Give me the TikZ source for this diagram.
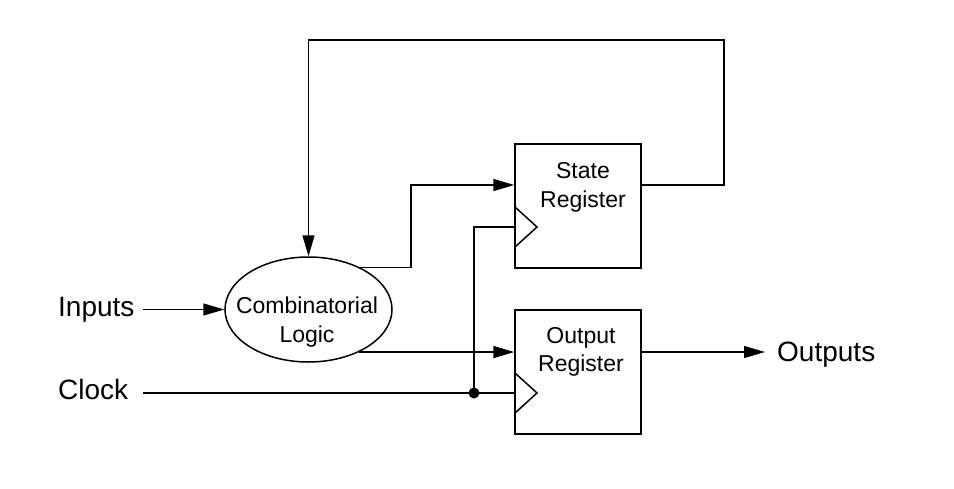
\documentclass[tikz,border=0pt]{standalone}
\usepackage{fontspec}
\setmainfont{Liberation Sans}
\usetikzlibrary{arrows.meta,shapes.geometric,calc}
\begin{document}
\begin{tikzpicture}[x=1pt,y=-1pt,
  wire/.style={line width=1.5pt},
  arr/.style={wire,-{Triangle[length=21pt,width=12pt]}},
  reg/.style={draw,line width=1.5pt,minimum width=126pt,minimum height=124pt,inner sep=0},
  boxtext/.style={font=\fontsize{23}{29}\selectfont,inner sep=0,anchor=base},
  lbl/.style={font=\fontsize{28}{34}\selectfont,inner sep=0,anchor=base west},
  jdot/.style={circle,fill,minimum size=11pt,inner sep=0}]
\useasboundingbox (0,0) rectangle (954,488);
% blocks
\node[reg] (sr) at (578,206) {};
\node[reg] (or) at (578,372) {};
\node[draw,ellipse,line width=1.5pt,minimum width=167pt,minimum height=105pt,inner sep=0] (cl) at (308.5,309.5) {};
% block texts
\node[boxtext] (srt1) at (583,178) {State};
\node[boxtext] (srt2) at (583,207) {Register};
\node[boxtext] (ort1) at (581,343) {Output};
\node[boxtext] (ort2) at (581,371) {Register};
\node[boxtext] (clt1) at (307,313) {Combinatorial};
\node[boxtext] (clt2) at (307,342) {Logic};
% labels
\node[lbl] (inp) at (58,316) {Inputs};
\node[lbl] (clk) at (58,399) {Clock};
\node[lbl] (outp) at (777,361) {Outputs};
% coordinates
\coordinate (inS) at (143,309.5);
\coordinate (clkS) at (143,393);
\coordinate (fb) at (724,40);
\coordinate (bend) at (411,185);
\coordinate (outE) at (765,352);
\node[jdot] (j) at (474,393) {};
% clock triangles
\coordinate (srT1) at (515,207);
\coordinate (srT2) at (537,227);
\coordinate (srT3) at (515,247);
\coordinate (orT1) at (515,373);
\coordinate (orT2) at (537,393);
\coordinate (orT3) at (515,413);
\draw[wire,line join=miter] (srT1) -- (srT2) -- (srT3);
\draw[wire,line join=miter] (orT1) -- (orT2) -- (orT3);
% connectors
\draw[arr] (inS) -- (cl.west);
\draw[wire] (clkS) -- (or.west |- clkS);
\draw[wire] (j.center) |- (sr.west |- srT2);
\draw[arr] (sr.east |- bend) -| (fb) -| (cl.north);
\draw[arr] (cl.39) -| (bend) -- (sr.west |- bend);
\draw[arr] (cl.-40) -- (or.west |- cl.-40);
\draw[arr] (or.east |- outE) -- (outE);
\end{tikzpicture}
\end{document}
